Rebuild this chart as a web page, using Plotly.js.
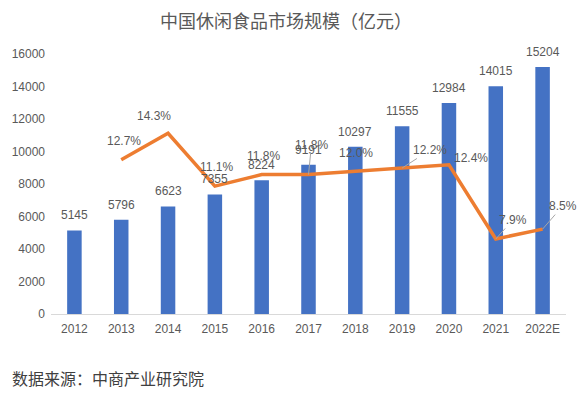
<!DOCTYPE html>
<html>
<head>
<meta charset="utf-8">
<script src="https://cdn.plot.ly/plotly-3.0.1.min.js"></script>
<style>html,body{margin:0;padding:0;background:#fff;}#chart{width:581px;height:393px;}</style>
</head>
<body>
<div id="chart"></div>
<script>
const years = ["2012","2013","2014","2015","2016","2017","2018","2019","2020","2021","2022E"];
const marketSize = [5145, 5796, 6623, 7355, 8224, 9191, 10297, 11555, 12984, 14015, 15204];
const growthYears = ["2013","2014","2015","2016","2017","2018","2019","2020","2021","2022E"];
const growthRate = [12.7, 14.3, 11.1, 11.8, 11.8, 12.0, 12.2, 12.4, 7.9, 8.5];
const growthLabels = ["12.7%","14.3%","11.1%","11.8%","11.8%","12.0%","12.2%","12.4%","7.9%","8.5%"];

const FONT = "Liberation Sans, Arial, Noto Sans CJK SC, sans-serif";
const CJK = "Noto Sans CJK SC, sans-serif";
const GRAY = "#595959";

// label placement (pixel offsets) for growth labels
const labelPlace = [
  {dx:3, dy:19, arrow:false},
  {dx:-14, dy:17, arrow:false},
  {dx:2, dy:19, arrow:false},
  {dx:1.5, dy:19, arrow:false},
  {dx:3, dy:30, arrow:true},
  {dx:1, dy:18, arrow:false},
  {dx:28, dy:18, arrow:true},
  {dx:22, dy:7, arrow:false},
  {dx:17, dy:19, arrow:true},
  {dx:20, dy:23, arrow:true}
];

const annotations = [];
years.forEach((y, i) => {
  annotations.push({
    x: i, y: marketSize[i], xref: 'x', yref: 'y',
    text: String(marketSize[i]), showarrow: false,
    yanchor: 'middle', yshift: 15,
    font: {family: FONT, size: 12, color: GRAY}
  });
});
growthYears.forEach((y, i) => {
  const p = labelPlace[i];
  const a = {
    x: years.indexOf(y), y: growthRate[i], xref: 'x', yref: 'y2',
    text: growthLabels[i],
    font: {family: FONT, size: 12, color: GRAY}
  };
  if (p.arrow) {
    a.showarrow = true; a.arrowhead = 0; a.arrowwidth = 1; a.arrowcolor = '#A6A6A6';
    a.ax = p.dx; a.ay = -p.dy; a.standoff = 0;
  } else {
    a.showarrow = false; a.xshift = p.dx; a.yshift = p.dy;
  }
  annotations.push(a);
});
annotations.push({
  xref: 'paper', yref: 'paper', x: -0.0796, y: -0.246,
  xanchor: 'left', yanchor: 'middle', showarrow: false,
  text: '数据来源：中商产业研究院',
  font: {family: CJK, size: 16, color: '#404040'}
});

const data = [
  {
    type: 'bar', x: years, y: marketSize, name: '市场规模',
    marker: {color: '#4472C4'}, hoverinfo: 'skip'
  },
  {
    type: 'scatter', mode: 'lines', x: growthYears, y: growthRate, yaxis: 'y2',
    name: '增长率', line: {color: '#ED7D31', width: 3.5}, hoverinfo: 'skip'
  }
];

const layout = {
  width: 581, height: 393,
  margin: {l: 51, r: 15, t: 54, b: 79},
  paper_bgcolor: '#fff', plot_bgcolor: '#fff',
  showlegend: false,
  bargap: 0.69,
  title: {
    text: '中国休闲食品市场规模（亿元）',
    x: 286/581, xanchor: 'center', xref: 'container',
    y: 1 - 22/393, yanchor: 'middle', yref: 'container',
    font: {family: CJK, size: 18, color: GRAY}
  },
  xaxis: {
    type: 'category', categoryarray: years, categoryorder: 'array',
    range: [-0.5, years.length - 0.5], autorange: false,
    showgrid: false, zeroline: false,
    showline: true, linecolor: '#D9D9D9', linewidth: 1,
    ticks: '', ticklabelstandoff: 4,
    tickfont: {family: FONT, size: 12, color: GRAY}
  },
  yaxis: {
    range: [0, 16000], autorange: false, tickformat: 'd',
    tickvals: [0,2000,4000,6000,8000,10000,12000,14000,16000],
    showgrid: false, zeroline: false, showline: false, ticks: '',
    ticklabelstandoff: 5,
    tickfont: {family: FONT, size: 12, color: GRAY}
  },
  yaxis2: {
    overlaying: 'y', side: 'right', range: [3.357, 19.105], autorange: false,
    visible: false, showgrid: false, zeroline: false
  },
  annotations: annotations
};

Plotly.newPlot('chart', data, layout, {displayModeBar: false, staticPlot: true});
</script>
</body>
</html>
